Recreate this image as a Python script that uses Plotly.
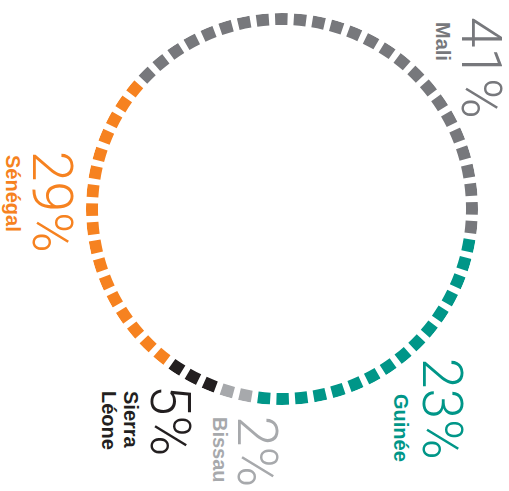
import plotly.graph_objects as go

# ---- data ----
countries = ["Mali", "Guinée", "Bissau", "Sierra Léone", "Sénégal"]
percents = [41, 23, 2, 5, 29]
square_counts = [26, 16, 2, 3, 17]  # number of dash squares per country
colors = ["#77787c", "#009688", "#a7a9ac", "#231f20", "#f68220"]

W, H = 509, 491
CX, CY, R_OUT = 282, 209, 196
total = sum(square_counts)
step = 360.0 / total

fig = go.Figure()
idx = 0
for name, n, c in zip(countries, square_counts, colors):
    thetas = [(idx + i) * step for i in range(n)]
    idx += n
    fig.add_trace(go.Barpolar(
        theta=thetas, r=[12.0 / R_OUT] * n, base=1 - 12.0 / R_OUT,
        width=3.75, marker=dict(color=c, line=dict(width=0)),
        name=name, showlegend=False, hoverinfo="skip"))

def px(x):
    return x / W

def py(y):
    return 1 - y / H

fig.update_layout(
    width=W, height=H,
    margin=dict(l=0, r=0, t=0, b=0),
    paper_bgcolor="white", plot_bgcolor="white",
    polar=dict(
        domain=dict(x=[px(CX - R_OUT), px(CX + R_OUT)], y=[py(CY + R_OUT), py(CY - R_OUT)]),
        bgcolor="rgba(0,0,0,0)",
        radialaxis=dict(range=[0, 1], visible=False),
        angularaxis=dict(visible=False, rotation=135.2, direction="clockwise"),
    ),
)

big_font = "Roboto"
lab_font = "Liberation Sans"
# (text, x, y, size, bold, color) in window pixels
label_specs = [
    (f"{percents[0]}%", 481, 68, 55, False, colors[0]),
    (countries[0], 443, 41, 20, True, colors[0]),
    (f"{percents[4]}%", 52, 202, 55, False, colors[4]),
    (countries[4], 13, 193, 20, True, colors[4]),
    (f"{percents[1]}%", 442, 409, 55, False, colors[1]),
    (countries[1], 401, 428, 20, True, colors[1]),
    (f"{percents[3]}%", 170, 420, 55, False, colors[3]),
    ("Sierra", 131, 420, 20, True, colors[3]),
    ("Léone", 109, 420, 20, True, colors[3]),
    (f"{percents[2]}%", 257, 451, 55, False, colors[2]),
    (countries[2], 220, 450, 20, True, colors[2]),
]
for text, x, y, size, bold, col in label_specs:
    fig.add_annotation(
        text=text, x=px(x), y=py(y), xref="paper", yref="paper",
        xanchor="center", yanchor="middle", showarrow=False, textangle=90,
        font=dict(family=lab_font if bold else big_font, size=size, color=col,
                  weight="bold" if bold else 300),
    )

fig.write_html(
    "out.html",
    config={"displayModeBar": False},
    post_script="document.body.style.margin='0';document.body.style.overflow='hidden';",
)
